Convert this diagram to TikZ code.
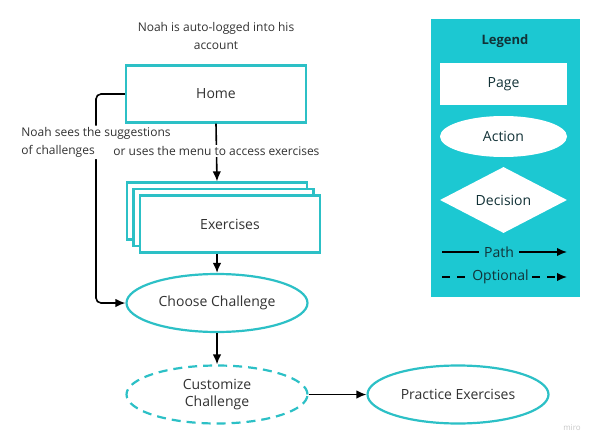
\documentclass[tikz,border=0pt]{standalone}
\usepackage{fontspec}
\setmainfont{Open Sans}
\usetikzlibrary{shapes.geometric,arrows.meta}
\definecolor{teal1}{RGB}{44,192,198}
\definecolor{legbg}{RGB}{28,200,210}
\definecolor{txt}{RGB}{50,50,50}
\definecolor{legtxt}{RGB}{18,50,55}
\begin{document}
\begin{tikzpicture}[x=1pt,y=-1pt,
  every node/.style={text=txt, font=\fontsize{14}{17}\selectfont},
  page/.style={draw=teal1, line width=2.2pt, fill=white, minimum width=180pt, minimum height=57pt, inner sep=0pt},
  action/.style={ellipse, draw=teal1, line width=2.2pt, fill=white, minimum width=181pt, minimum height=58pt, inner sep=0pt, align=center},
  arr/.style={draw=black, line width=1.6pt, -{Latex[length=10pt,width=8.5pt]}},
  lbl/.style={font=\fontsize{12}{18.5}\selectfont, fill=white, inner sep=1.5pt},
  legitem/.style={fill=white, text=legtxt, inner sep=0pt},
  leglbl/.style={fill=legbg, text=legtxt, inner xsep=5pt, inner ysep=1pt},
]
\useasboundingbox (0,0) rectangle (600,444);

% main flow
\node[lbl, align=center, fill=none] (title) at (216,36) {Noah is auto-logged into his\\account};
\node[page] (home) at (216,94) {Home};
\node[page] (exback) at (217,211) {};
\node[page] (exmid) at (223.5,217.5) {};
\node[page] (ex) at (230,224) {Exercises};
\node[action] (choose) at (217,303) {Choose Challenge};
\node[action, dash pattern=on 9pt off 6pt] (custom) at (217,394.5) {Customize\\Challenge};
\node[action] (practice) at (458,394.5) {Practice Exercises};

\coordinate (lx) at (96,0);
\draw[arr, rounded corners=5pt] (home.west) -- (home.west -| lx)
  -- node[lbl, align=left, pos=0.232] (lblsug) {Noah sees the suggestions\\of challenges}
  (choose.west -| lx) -- (choose.west);
\draw[arr] (home.south) -- node[lbl, pos=0.48] (lblmenu) {or uses the menu to access exercises} (exback.north);
\draw[arr] (ex.south -| choose.north) -- (choose.north);
\draw[arr] (choose.south) -- (custom.north);
\draw[arr] (custom.east) -- (practice.west);

% legend
\node[fill=legbg, minimum width=149pt, minimum height=278pt, inner sep=0pt] (legend) at (505.5,158) {};
\node[font=\bfseries\fontsize{13}{16}\selectfont, text=legtxt] (legtitle) at (505,41) {Legend};
\node[legitem, minimum width=127pt, minimum height=42pt] (lpage) at (503.5,84) {Page};
\node[legitem, ellipse, minimum width=127pt, minimum height=41pt] (laction) at (503.5,136.5) {Action};
\node[legitem, diamond, aspect=1.9, minimum width=127pt, minimum height=66pt] (ldec) at (503.5,200) {Decision};
\coordinate (pa) at (442,252);
\coordinate (pb) at (567,252);
\draw[arr] (pa) -- node[leglbl, pos=0.456] (lpath) {Path} (pb);
\coordinate (oa) at (442,277);
\coordinate (ob) at (567,277);
\draw[arr, dash pattern=on 8pt off 7pt] (oa) -- node[leglbl, inner xsep=3pt, pos=0.468] (lopt) {Optional} (ob);

\node[text=black!22, font=\fontsize{8}{9}\selectfont] (miro) at (572,428) {miro};
\end{tikzpicture}
\end{document}
